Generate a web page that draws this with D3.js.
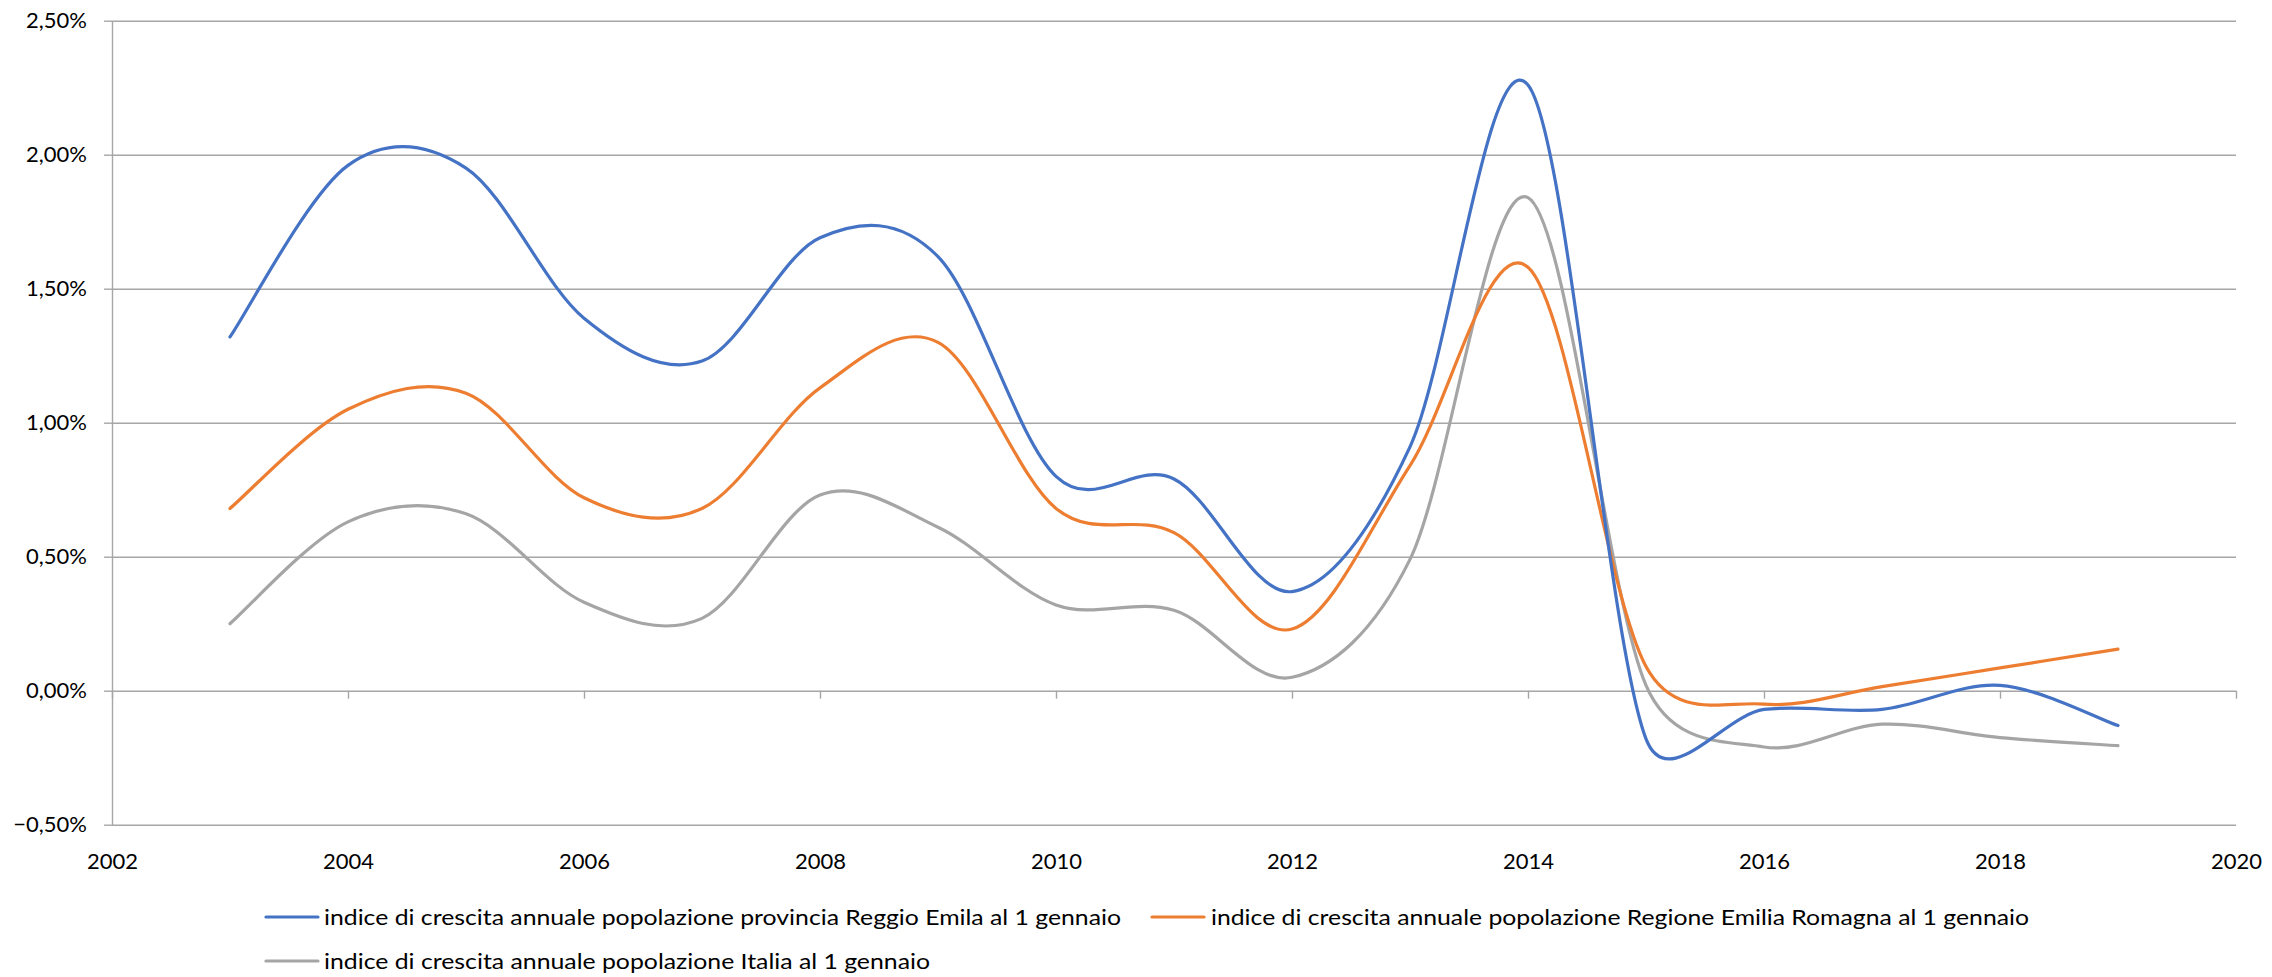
<!DOCTYPE html>
<html><head><meta charset="utf-8">
<script src="https://cdn.jsdelivr.net/npm/d3@7"></script>
<style>
body{margin:0;background:#fff}
text{font-family:Lato,'Liberation Sans',sans-serif;fill:#000}
</style>
</head><body><svg id="c" width="2272" height="977"></svg>
<script>
const years = [2003,2004,2005,2006,2007,2008,2009,2010,2011,2012,2013,2014,2015,2016,2017,2018,2019];
const reggioEmilia  = [1.32,1.96,1.95,1.39,1.23,1.69,1.62,0.80,0.79,0.37,0.91,2.26,-0.18,-0.07,-0.07,0.02,-0.13];
const emiliaRomagna = [0.68,1.05,1.11,0.72,0.68,1.13,1.30,0.68,0.59,0.23,0.84,1.58,0.09,-0.05,0.015,0.085,0.155];
const italia        = [0.25,0.63,0.66,0.33,0.27,0.73,0.61,0.32,0.30,0.05,0.49,1.84,0.02,-0.21,-0.125,-0.175,-0.205];
const seriesNames = [
  "indice di crescita annuale popolazione provincia Reggio Emila al 1 gennaio",
  "indice di crescita annuale popolazione Regione Emilia Romagna al 1 gennaio",
  "indice di crescita annuale popolazione Italia al 1 gennaio"
];
const seriesColors = ["#4472C4","#ED7D31","#A5A5A5"];
const yTicks = [-0.005,0,0.005,0.01,0.015,0.02,0.025];
const xTicks = [2002,2004,2006,2008,2010,2012,2014,2016,2018,2020];

// spreadsheet-style smoothed line (cubic Bezier, 1/6 tangents capped at half the segment)
function SmoothCurve(context){ this._context = context; }
SmoothCurve.prototype = {
  areaStart(){ this._line = 0; },
  areaEnd(){ this._line = NaN; },
  lineStart(){ this._pts = []; },
  point(px,py){ this._pts.push([+px,+py]); },
  lineEnd(){
    const p = this._pts, c = this._context, n = p.length;
    if(!n) return;
    c.moveTo(p[0][0], p[0][1]);
    for(let i=0;i<n-1;i++){
      const p0=p[Math.max(i-1,0)], p1=p[i], p2=p[i+1], p3=p[Math.min(i+2,n-1)];
      const d02=Math.hypot(p2[0]-p0[0],p2[1]-p0[1]);
      const d12=Math.hypot(p2[0]-p1[0],p2[1]-p1[1]);
      const d13=Math.hypot(p3[0]-p1[0],p3[1]-p1[1]);
      let f1=1/6, f2=1/6;
      if(d02>0 && d02/6 >= d12/2) f1 = d12/(2*d02);
      if(d13>0 && d13/6 >= d12/2) f2 = d12/(2*d13);
      c.bezierCurveTo(
        p1[0]+f1*(p2[0]-p0[0]), p1[1]+f1*(p2[1]-p0[1]),
        p2[0]-f2*(p3[0]-p1[0]), p2[1]-f2*(p3[1]-p1[1]),
        p2[0], p2[1]);
    }
  }
};
const curveSmooth = ctx => new SmoothCurve(ctx);

const svg = d3.select("#c");
const L = 112, R = 2236, T = 20.7, B = 824.7;
const x = d3.scaleLinear().domain([2002,2020]).range([L,R]);
const y = d3.scaleLinear().domain([-0.005,0.025]).range([B,T]);
const loc = d3.formatLocale({decimal:",",thousands:".",grouping:[3],currency:["€",""]});
const pct = loc.format(".2%");
const gridColor = "#a6a6a6";

// gridlines
const grid = svg.append("g").attr("transform",`translate(${L},0)`)
  .call(d3.axisLeft(y).tickValues(yTicks).tickSize(-(R-L)).tickFormat(""));
grid.select(".domain").remove();
grid.selectAll("line").attr("stroke",gridColor).attr("stroke-width",1.4);

// y axis
const ya = svg.append("g").attr("transform",`translate(${L},0)`)
  .call(d3.axisLeft(y).tickValues(yTicks).tickSize(8).tickPadding(17).tickFormat(pct).tickSizeOuter(0));
ya.select(".domain").attr("stroke",gridColor).attr("stroke-width",1.4);
ya.selectAll("line").attr("stroke",gridColor).attr("stroke-width",1.4);
ya.selectAll("text").attr("font-size",22).attr("font-family","Lato");

// x axis at y=0
const y0 = y(0);
const xa = svg.append("g").attr("transform",`translate(0,${y0})`)
  .call(d3.axisBottom(x).tickValues(xTicks).tickSize(8).tickFormat(d3.format("d")));
xa.select(".domain").remove();
xa.selectAll("line").attr("stroke",gridColor).attr("stroke-width",1.4);
xa.selectAll("text").attr("font-size",22).attr("font-family","Lato")
  .attr("y", 861 - y0).attr("dy","0.35em");

// lines
const data = [reggioEmilia, emiliaRomagna, italia];
const line = d3.line().x((d,i)=>x(years[i])).y(d=>y(d/100)).curve(curveSmooth);
[2,1,0].forEach(k=>{
  svg.append("path").datum(data[k]).attr("d",line)
    .attr("fill","none").attr("stroke",seriesColors[k]).attr("stroke-width",3.2)
    .attr("stroke-linecap","round").attr("stroke-linejoin","round");
});

// legend
const legendItems = [
  {x1:266, x2:318, tx:324, ty:917, w:797},
  {x1:1152, x2:1204, tx:1211, ty:917, w:818},
  {x1:266, x2:318, tx:324, ty:961, w:606}
];
legendItems.forEach((p,k)=>{
  svg.append("line").attr("x1",p.x1).attr("x2",p.x2).attr("y1",p.ty).attr("y2",p.ty)
    .attr("stroke",seriesColors[k]).attr("stroke-width",3.2).attr("stroke-linecap","round");
  svg.append("text").attr("x",p.tx).attr("y",p.ty).attr("dy","0.35em")
    .attr("font-size",22).attr("textLength",p.w).attr("lengthAdjust","spacingAndGlyphs")
    .text(seriesNames[k]);
});
</script></body></html>
